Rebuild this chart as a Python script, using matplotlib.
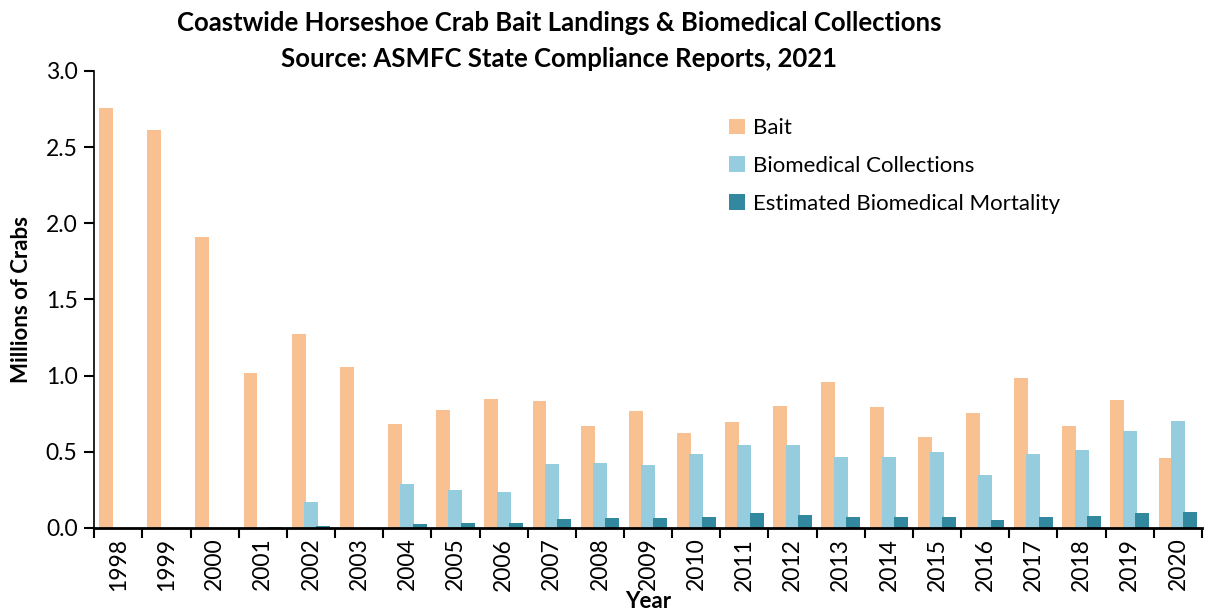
import matplotlib.pyplot as plt
import numpy as np

plt.rcParams['font.family'] = ['Lato', 'DejaVu Sans']

years = [str(y) for y in range(1998, 2021)]
bait = [2.756, 2.609, 1.911, 1.02, 1.274, 1.057, 0.684, 0.774, 0.843, 0.831,
        0.666, 0.766, 0.62, 0.697, 0.801, 0.955, 0.792, 0.599, 0.757, 0.985,
        0.668, 0.837, 0.46]
biomedical = [0, 0, 0, 0, 0.171, 0, 0.285, 0.25, 0.238, 0.42,
              0.426, 0.415, 0.482, 0.546, 0.542, 0.466, 0.468, 0.495, 0.346, 0.482,
              0.511, 0.638, 0.70]
mortality = [0, 0, 0, 0.009, 0.011, 0, 0.026, 0.033, 0.03, 0.06,
             0.066, 0.064, 0.07, 0.097, 0.082, 0.072, 0.07, 0.074, 0.05, 0.07,
             0.077, 0.10, 0.105]

c_bait = '#F9C191'
c_bio = '#95CDDE'
c_mort = '#31889F'

fig = plt.figure(figsize=(12.08, 6.16), dpi=100)
ax = fig.add_axes([0.078, 0.143, 0.917, 0.742])

x = np.arange(len(years))
w = 0.29
off = 0.255
ax.bar(x - off, bait, w, color=c_bait, label='Bait')
ax.bar(x, biomedical, w, color=c_bio, label='Biomedical Collections')
ax.bar(x + off, mortality, w, color=c_mort, label='Estimated Biomedical Mortality')

ax.set_xlim(-0.5, len(years) - 0.5)
ax.set_ylim(0, 3.0)
ax.set_yticks(np.arange(0, 3.01, 0.5))
ax.set_yticklabels([f"{v:.1f}" for v in np.arange(0, 3.01, 0.5)], fontsize=16.5)
ax.set_xticks(x)
ax.set_xticklabels(years, rotation=90, fontsize=16.5)
ax.set_xticks(np.arange(-0.5, len(years), 1), minor=True)
ax.tick_params(axis='x', which='major', length=0, pad=7)
ax.tick_params(axis='x', which='minor', length=7, width=1.5, direction='out')
ax.tick_params(axis='y', length=7, width=1.5, direction='out', pad=5)

for s in ['top', 'right']:
    ax.spines[s].set_visible(False)
ax.spines['left'].set_linewidth(1.2)
ax.spines['bottom'].set_linewidth(2)

ax.set_ylabel('Millions of Crabs', fontsize=16, fontweight='bold', labelpad=10)
ax.set_xlabel('Year', fontsize=16, fontweight='bold', labelpad=0)

fig.suptitle('Coastwide Horseshoe Crab Bait Landings & Biomedical Collections\n'
             'Source: ASMFC State Compliance Reports, 2021',
             fontsize=18.5, fontweight='bold', y=0.982, x=0.463, linespacing=1.6)

ax.legend(loc='upper left', bbox_to_anchor=(0.555, 0.94), frameon=False,
          fontsize=16, handlelength=0.7, handleheight=0.7, labelspacing=0.8,
          handletextpad=0.4)

fig.savefig('out.png', dpi=100)
